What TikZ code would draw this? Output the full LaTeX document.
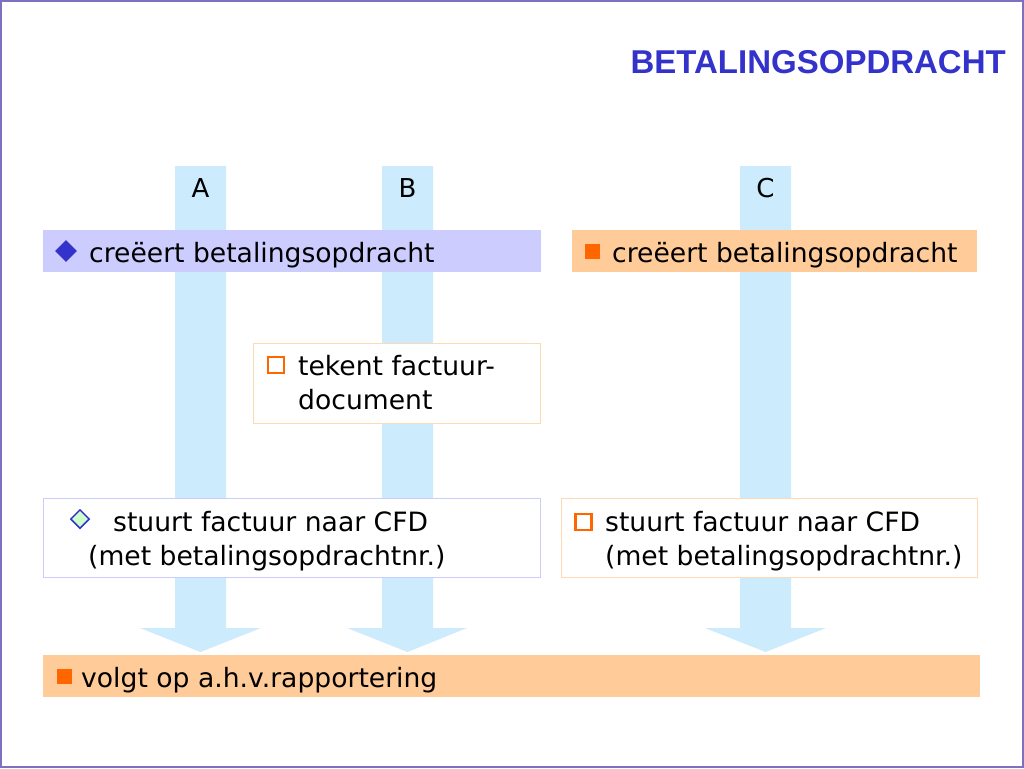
\documentclass[tikz,border=0pt]{standalone}
\usepackage{fontspec}
\setmainfont{DejaVu Sans}
\newfontfamily\titlefont{Liberation Sans}
\usetikzlibrary{shapes.geometric}

\definecolor{lane}{HTML}{CCEBFC}
\definecolor{lavbar}{HTML}{CCCCFF}
\definecolor{peach}{HTML}{FFCC99}
\definecolor{ink}{HTML}{3333CC}
\definecolor{tangerine}{HTML}{FF6600}
\definecolor{frame}{HTML}{7C70C0}
\definecolor{mint}{HTML}{CCFFCC}
\definecolor{peachline}{HTML}{FFD9B3}

\tikzset{
  txt/.style={anchor=base west, inner sep=0pt, font=\fontsize{26.6}{30}\selectfont},
  lbl/.style={anchor=base, inner sep=0pt, font=\fontsize{26}{30}\selectfont},
  bar/.style={anchor=north west, inner sep=0pt, draw=none},
  box/.style={anchor=north west, inner sep=0pt, fill=white, line width=0.8pt},
  fulldiamond/.style={diamond, aspect=1, inner sep=0pt, minimum size=22pt, fill=ink},
  opendiamond/.style={diamond, aspect=1, inner sep=0pt, minimum size=19pt, fill=mint, draw=ink, line width=1.5pt},
  fullsquare/.style={rectangle, inner sep=0pt, minimum size=15pt, fill=tangerine},
  opensquare/.style={rectangle, inner sep=0pt, minimum size=16pt, draw=tangerine, line width=2.2pt}
}

\begin{document}
\begin{tikzpicture}[x=1pt,y=-1pt]
  \useasboundingbox (0,0) rectangle (1024,768);
  \draw[frame, line width=2pt] (1,1) rectangle (1023,767);

  \node[anchor=base east, inner sep=0pt, ink, font=\titlefont\bfseries\fontsize{33}{36}\selectfont] (title) at (1006,73) {BETALINGSOPDRACHT};

  % lanes
  \fill[lane] (175,166) -- (226,166) -- (226,628) -- (261,628) -- (200.5,652) -- (140,628) -- (175,628) -- cycle;
  \fill[lane] (382,166) -- (433,166) -- (433,628) -- (467,628) -- (407.5,652) -- (347,628) -- (382,628) -- cycle;
  \fill[lane] (740,166) -- (791,166) -- (791,628) -- (826,628) -- (765.5,652) -- (705,628) -- (740,628) -- cycle;
  \node[lbl] (A) at (200.5,197) {A};
  \node[lbl] (B) at (407.5,197) {B};
  \node[lbl] (C) at (765.5,197) {C};

  % first row
  \node[bar, fill=lavbar, minimum width=498pt, minimum height=42pt] (barA) at (43,230) {};
  \node[fulldiamond] (iconA) at (66,251) {};
  \node[txt] (createA) at (89,262) {creëert betalingsopdracht};

  \node[bar, fill=peach, minimum width=405pt, minimum height=42pt] (barC) at (572,230) {};
  \node[fullsquare] (iconC) at (592.5,251.5) {};
  \node[txt] (createC) at (612,262) {creëert betalingsopdracht};

  % signing
  \node[box, draw=peachline, minimum width=287pt, minimum height=80pt] (signB) at (253,343) {};
  \node[opensquare] (iconB) at (276,365) {};
  \node[txt] (signB1) at (298,375) {tekent factuur-};
  \node[txt] (signB2) at (298,409) {document};

  % sending
  \node[box, draw=lavbar, minimum width=497pt, minimum height=79pt] (sendA) at (43,498) {};
  \node[opendiamond] (iconsA) at (80,519) {};
  \node[txt] (sendA1) at (113,531) {stuurt factuur naar CFD};
  \node[txt] (sendA2) at (88,565) {(met betalingsopdrachtnr.)};

  \node[box, draw=peachline, minimum width=416pt, minimum height=79pt] (sendC) at (561,498) {};
  \node[opensquare] (iconsC) at (583.5,522) {};
  \node[txt] (sendC1) at (605,531) {stuurt factuur naar CFD};
  \node[txt] (sendC2) at (605,565) {(met betalingsopdrachtnr.)};

  % follow-up
  \node[bar, fill=peach, minimum width=937pt, minimum height=42pt] (follow) at (43,655) {};
  \node[fullsquare] (iconF) at (64,676) {};
  \node[txt] (followT) at (81,687) {volgt op a.h.v.rapportering};
\end{tikzpicture}
\end{document}
